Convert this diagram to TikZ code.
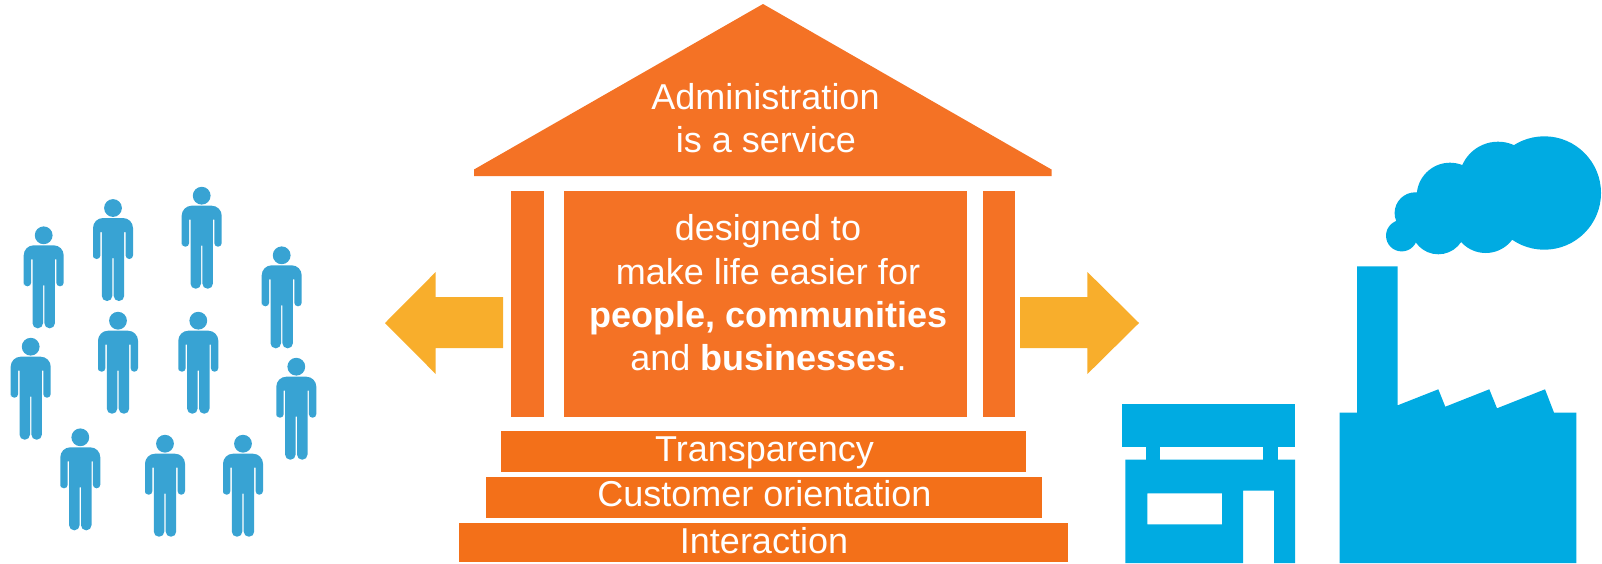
\documentclass[tikz,border=0pt]{standalone}
\usepackage{fontspec}
\setmainfont{Liberation Sans}
\definecolor{orangeA}{HTML}{F47225}
\definecolor{orangeB}{HTML}{F37019}
\definecolor{amber}{HTML}{F8AE2C}
\definecolor{skyblue}{HTML}{00ABE2}
\definecolor{peopleblue}{HTML}{38A3D3}
\tikzset{
  label/.style={text=white,anchor=base,inner sep=0pt,font=\fontsize{36}{44}\selectfont},
  person/.pic={
    \fill[peopleblue] (0,0) circle (8.9pt);
    \fill[peopleblue] (0.7,50) [rounded corners=5.1pt] -- (0.7,93) -- (11.2,93) -- (11.2,70) [sharp corners] -- (11.2,24) -- (12.6,24) [rounded corners=3.6pt] -- (12.6,51) -- (20,51) -- (20,40) [rounded corners=10pt] -- (20,10) -- (-20,10) -- (-20,40) [rounded corners=3.6pt] -- (-20,51) -- (-12.6,51) -- (-12.6,30) [sharp corners] -- (-12.6,24) -- (-11.2,24) -- (-11.2,70) [rounded corners=5.1pt] -- (-11.2,93) -- (-0.7,93) -- (-0.7,60) [sharp corners] -- (-0.7,50) -- cycle;
  }
}
\begin{document}
\begin{tikzpicture}[x=1pt,y=-1pt]
\useasboundingbox (0,0) rectangle (1602,563);
% people
\foreach \px/\py in {43.7/235.3,113/208,201.7/195.7,281.7/255.3,30.7/346.7,118/320.7,198.3/320.7,296.3/366.7,80.3/437.3,165/443.7,243/443.7}
  \pic at (\px,\py) {person};
% roof
\fill[orangeA] (763,4) -- (1051.5,169.5) -- (1051.5,176) -- (474,176) -- (474,169.5) -- cycle;
% columns and wall
\fill[orangeA] (511,190.7) rectangle (544,417);
\fill[orangeA] (564,190.7) rectangle (966.5,417);
\fill[orangeA] (982.5,190.7) rectangle (1014.5,417);
% steps
\fill[orangeB] (500.7,431) rectangle (1026,472);
\fill[orangeB] (486,477) rectangle (1042,518);
\fill[orangeB] (458.6,523) rectangle (1068,562);
% arrows
\fill[amber] (385,323) -- (435.7,272) -- (435.7,297) -- (503,297) -- (503,348) -- (435.7,348) -- (435.7,374) -- cycle;
\fill[amber] (1139,323) -- (1087.4,272) -- (1087.4,297) -- (1020,297) -- (1020,348) -- (1087.4,348) -- (1087.4,374) -- cycle;
% shop
\fill[skyblue] (1121.7,404) rectangle (1295,447.3);
\fill[skyblue] (1146.3,447) rectangle (1160,460);
\fill[skyblue] (1262.7,447) rectangle (1277.7,460);
\fill[skyblue,even odd rule] (1125.3,459.7) -- (1295,459.7) -- (1295,563) -- (1274,563) -- (1274,490.7) -- (1243,490.7) -- (1243,563) -- (1125.3,563) -- cycle
  (1147.3,493.3) rectangle (1222,524.3);
% factory
\fill[skyblue] (1339.7,563) -- (1339.7,412.7) -- (1357,412.7) -- (1357,266.3) -- (1397.7,266.3) -- (1397.7,405.3) -- (1438.3,389.3) -- (1445.3,406.7) -- (1489.3,389.3) -- (1497,408.3) -- (1545,389.3) -- (1554,412.7) -- (1576.3,412.7) -- (1576.3,563) -- cycle;
% smoke
\fill[skyblue] (1544.3,193) circle (56.7pt) (1498,180.7) circle (39pt) (1450,196) circle (33.3pt) (1415.3,213) circle (20.7pt) (1401.7,235.7) circle (15.7pt) (1438.3,227) circle (27.3pt) (1485.7,220) circle (33pt);
\fill[skyblue] (1420,215) rectangle (1530,240);
% texts
\node[label] (adm) at (765.5,109.2) {Administration};
\node[label] (svc) at (766,152.8) {is a service};
\node[label] (des) at (768,240.8) {designed to};
\node[label] (mak) at (768,284.5) {make life easier for};
\node[label] (peo) at (768.5,327.3) {\bfseries people, communities};
\node[label] (and) at (768.5,370.8) {and \textbf{businesses}.};
\node[label] (tra) at (764.5,461.5) {Transparency};
\node[label] (cus) at (764.5,506.4) {Customer orientation};
\node[label] (int) at (764,553.8) {Interaction};
\end{tikzpicture}
\end{document}
